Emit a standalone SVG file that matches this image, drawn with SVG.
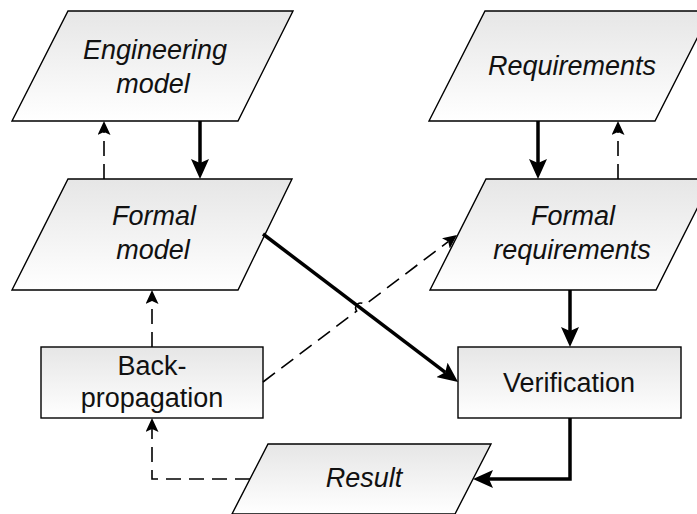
<svg xmlns="http://www.w3.org/2000/svg" width="697" height="514" viewBox="0 0 697 514">
  <defs>
    <linearGradient id="shade" x1="0" y1="0" x2="0" y2="1">
      <stop offset="0" stop-color="#e6e6e6"/>
      <stop offset="1" stop-color="#ffffff"/>
    </linearGradient>
    <marker id="headSolid" viewBox="0 0 20 18" refX="4" refY="9" markerWidth="20" markerHeight="18" markerUnits="userSpaceOnUse" orient="auto">
      <path d="M0,0 L20,9 L0,18 L4,9 z" fill="#000"/>
    </marker>
    <marker id="headDash" viewBox="0 0 14 13" refX="3" refY="6.5" markerWidth="14" markerHeight="13" markerUnits="userSpaceOnUse" orient="auto">
      <path d="M0,0 L14,6.5 L0,13 L3,6.5 z" fill="#000"/>
    </marker>
  </defs>
  <style>
    .shape { fill: url(#shade); stroke: #000; stroke-width: 1.4; }
    .label { font-family: "Liberation Sans", Arial, sans-serif; font-size: 27px; fill: #111; text-anchor: middle; }
    .it { font-style: italic; }
    .solid { fill: none; stroke: #000; stroke-width: 3.5; marker-end: url(#headSolid); }
    .dash { fill: none; stroke: #000; stroke-width: 1.6; stroke-dasharray: 15 8; marker-end: url(#headDash); }
  </style>

  <rect width="697" height="514" fill="#fff"/>

  <g id="engineering-model">
    <polygon class="shape" points="68,11 293,11 238,121 12,121"/>
    <text class="label it" x="155" y="59">Engineering</text>
    <text class="label it" x="153" y="93">model</text>
  </g>

  <g id="requirements">
    <polygon class="shape" points="485,11 711,11 655,121 429,121"/>
    <text class="label it" x="572" y="75">Requirements</text>
  </g>

  <g id="formal-model">
    <polygon class="shape" points="68,179 292,179 238,290 12,290"/>
    <text class="label it" x="154" y="225">Formal</text>
    <text class="label it" x="153" y="259">model</text>
  </g>

  <g id="formal-requirements">
    <polygon class="shape" points="486,179 712,179 656,290 430,290"/>
    <text class="label it" x="573" y="225">Formal</text>
    <text class="label it" x="572" y="259">requirements</text>
  </g>

  <g id="back-propagation">
    <rect class="shape" x="41" y="347" width="222" height="71"/>
    <text class="label" x="152" y="375">Back-</text>
    <text class="label" x="152" y="407">propagation</text>
  </g>

  <g id="verification">
    <rect class="shape" x="458" y="347" width="223" height="71"/>
    <text class="label" x="569" y="392">Verification</text>
  </g>

  <g id="result">
    <polygon class="shape" points="268,444 491,444 455,514 232,514"/>
    <text class="label it" x="364" y="487">Result</text>
  </g>

  <g id="connectors">
    <path class="solid" d="M200,121 L200,163"/>
    <path class="dash" d="M104,179 L104,132"/>
    <path class="solid" d="M538,121 L538,163"/>
    <path class="dash" d="M618,179 L618,132"/>
    <path class="solid" d="M263,234 L445.3,372.3"/>
    <path class="dash" d="M263,382 L356.6,311.1 A5,5 0 0 1 364.6,305 L448.2,241.6"/>
    <path class="dash" d="M152,347 L152,301"/>
    <path class="solid" d="M570,290 L570,331"/>
    <path class="solid" d="M570,418 L570,479 L489,479"/>
    <path class="dash" d="M250,479 L152,479 L152,429"/>
  </g>
</svg>
